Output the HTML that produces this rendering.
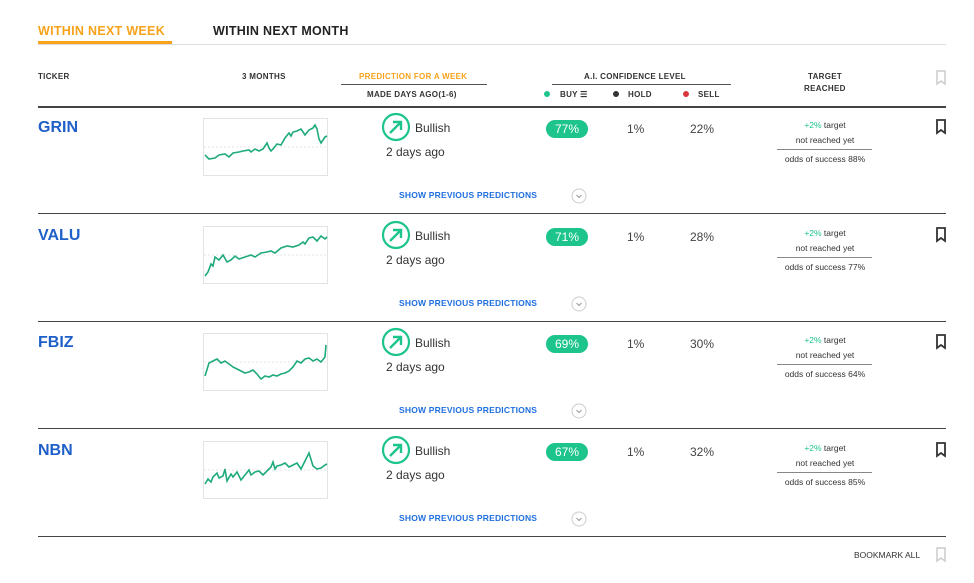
<!DOCTYPE html>
<html><head><meta charset="utf-8"><style>
body{margin:0;width:974px;height:583px;background:#fff;font-family:"Liberation Sans",sans-serif;position:relative;overflow:hidden}
.a{position:absolute;white-space:nowrap}
.h{font-size:8px;font-weight:bold;color:#333;letter-spacing:.3px}
.tk{font-size:16px;font-weight:bold;color:#1f5fc9}
.pill{background:#1dc48c;color:#fff;font-size:12px;border-radius:9px;width:42px;height:18px;line-height:18px;text-align:center}
.n{font-size:12px;color:#444}
.sm{font-size:8.5px;color:#333;text-align:center;width:100px}
.sp{font-size:8.5px;font-weight:bold;color:#1f6fe0;letter-spacing:.2px}
.line{position:absolute;left:38px;width:908px;height:1px;background:#444}
</style></head><body>
<div class="a" style="left:38px;top:24px;font-size:12.5px;font-weight:bold;color:#f7a21b;letter-spacing:.3px">WITHIN NEXT WEEK</div>
<div class="a" style="left:38px;top:41px;width:134px;height:3px;background:#f7a21b"></div>
<div class="a" style="left:213px;top:24px;font-size:12.5px;font-weight:bold;color:#222;letter-spacing:.3px">WITHIN NEXT MONTH</div>
<div class="a" style="left:38px;top:44px;width:908px;height:1px;background:#ddd"></div>
<div class="a h" style="left:38px;top:72px">TICKER</div>
<div class="a h" style="left:242px;top:72px">3 MONTHS</div>
<div class="a h" style="left:359px;top:72px;color:#f7a21b">PREDICTION FOR A WEEK</div>
<div class="a" style="left:341px;top:84px;width:146px;height:1px;background:#555"></div>
<div class="a h" style="left:367px;top:90px">MADE DAYS AGO(1-6)</div>
<div class="a h" style="left:584px;top:72px">A.I. CONFIDENCE LEVEL</div>
<div class="a" style="left:552px;top:84px;width:179px;height:1px;background:#555"></div>
<div class="a" style="left:544px;top:91px;width:6px;height:6px;border-radius:3px;background:#1dc48c"></div>
<div class="a h" style="left:560px;top:90px">BUY ☰</div>
<div class="a" style="left:613px;top:91px;width:6px;height:6px;border-radius:3px;background:#333"></div>
<div class="a h" style="left:628px;top:90px">HOLD</div>
<div class="a" style="left:683px;top:91px;width:6px;height:6px;border-radius:3px;background:#d9363e"></div>
<div class="a h" style="left:698px;top:90px">SELL</div>
<div class="a h" style="left:808px;top:72px">TARGET</div>
<div class="a h" style="left:804px;top:84px">REACHED</div>
<svg class="a" style="left:935px;top:70px" width="12" height="16"><path d="M2 1h8v13l-4-3-4 3z" fill="none" stroke="#ccc" stroke-width="1.5"/></svg>
<div class="line" style="top:106px;height:2px"></div>

<div id="rows"></div>
<script>
var d=[["GRIN","77%","22%","88%","0,70 4,74 10,73 14,70 20,69 24,72 28,68 34,67 38,66 44,65 46,67 50,64 54,66 58,64 62,58 64,63 66,66 68,64 72,59 76,60 80,53 84,48 86,51 88,47 92,46 96,44 100,50 104,45 108,43 110,40 112,44 114,54 116,58 120,52 122,51",-33],
["VALU","71%","28%","77%","0,52 3,48 6,40 8,42 10,33 14,36 18,31 22,38 26,36 30,32 34,35 40,33 46,31 50,33 56,29 62,28 66,27 70,29 76,24 82,22 88,23 94,21 98,18 100,20 104,14 108,13 112,17 116,12 120,15 122,13",-2],
["FBIZ","69%","30%","64%","0,45 4,32 8,30 12,28 16,32 20,30 24,33 28,36 32,38 36,40 40,42 44,41 48,39 52,43 56,48 60,45 64,46 68,44 72,45 76,43 80,42 84,40 88,36 92,30 96,32 100,28 104,27 108,30 112,28 116,31 120,26 121,14",-2],
["NBN","67%","32%","85%","0,45 3,40 6,43 8,38 12,34 14,39 18,37 20,30 22,42 26,35 28,38 32,33 36,41 40,36 44,31 46,36 50,33 54,32 58,36 62,32 66,28 68,23 70,30 72,27 76,26 80,24 84,28 88,26 92,24 96,30 100,22 104,14 108,27 112,30 116,29 120,26 122,25",-2]];
var h="";
d.forEach(function(r,i){var t=106+i*107.5;
h+='<div class="a tk" style="left:38px;top:'+(t+13)+'px">'+r[0]+'</div>';
h+='<svg class="a" style="left:203px;top:'+(t+12)+'px" width="125" height="58"><rect x="0.5" y="0.5" width="124" height="57" fill="#fff" stroke="#e3e3e3"/><line x1="1" y1="29" x2="124" y2="29" stroke="#e6e6e6" stroke-dasharray="2,2"/><polyline points="'+r[4]+'" transform="translate(2,'+r[5]+')" fill="none" stroke="#1eaa7b" stroke-width="1.6"/></svg>';
h+='<svg class="a" style="left:381px;top:'+(t+6)+'px" width="30" height="30"><circle cx="15" cy="15" r="13" fill="none" stroke="#1dc48c" stroke-width="2.2"/><path d="M9 21L20 10M12 10h8v8" fill="none" stroke="#1dc48c" stroke-width="2.4"/></svg>';
h+='<div class="a" style="left:415px;top:'+(t+15)+'px;font-size:12px;color:#333">Bullish</div>';
h+='<div class="a" style="left:386px;top:'+(t+39)+'px;font-size:12px;color:#333">2 days ago</div>';
h+='<div class="a pill" style="left:546px;top:'+(t+14)+'px">'+r[1]+'</div>';
h+='<div class="a n" style="left:627px;top:'+(t+16)+'px">1%</div>';
h+='<div class="a n" style="left:690px;top:'+(t+16)+'px">'+r[2]+'</div>';
h+='<div class="a sm" style="left:775px;top:'+(t+14)+'px"><span style="color:#1dc48c">+2%</span> target</div>';
h+='<div class="a sm" style="left:775px;top:'+(t+29)+'px">not reached yet</div>';
h+='<div class="a" style="left:777px;top:'+(t+43)+'px;width:95px;height:1px;background:#888"></div>';
h+='<div class="a sm" style="left:775px;top:'+(t+48)+'px">odds of success '+r[3]+'</div>';
h+='<svg class="a" style="left:935px;top:'+(t+13)+'px" width="12" height="16"><path d="M2 1h8v13l-4-3-4 3z" fill="none" stroke="#333" stroke-width="1.8"/></svg>';
h+='<div class="a sp" style="left:399px;top:'+(t+84)+'px">SHOW PREVIOUS PREDICTIONS</div>';
h+='<svg class="a" style="left:571px;top:'+(t+82)+'px" width="16" height="16"><circle cx="8" cy="8" r="7" fill="none" stroke="#ccc"/><path d="M5.5 7l2.5 2.5 2.5-2.5" fill="none" stroke="#999"/></svg>';
h+='<div class="line" style="top:'+Math.round(t+107)+'px"></div>';
});
document.getElementById("rows").outerHTML=h;
</script>
<div class="a" style="left:854px;top:550px;font-size:8.5px;color:#333">BOOKMARK ALL</div>
<svg class="a" style="left:935px;top:547px" width="12" height="16"><path d="M2 1h8v13l-4-3-4 3z" fill="none" stroke="#ccc" stroke-width="1.5"/></svg>
</body></html>
